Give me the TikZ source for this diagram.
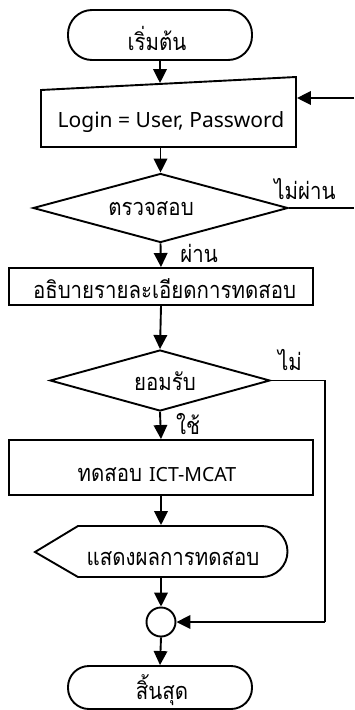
\documentclass[tikz,border=0pt]{standalone}
\usepackage{fontspec}
\setmainfont[Script=Thai,FakeStretch=0.87]{Loma}
\newfontfamily\latinf{Noto Sans}
\usetikzlibrary{arrows.meta,shapes.geometric}
\begin{document}
\begin{tikzpicture}[x=1pt,y=1pt,
  line width=1.9pt,
  txt/.style={font=\fontsize{23.5}{26}\selectfont, inner sep=0pt, anchor=base},
  term/.style={draw, rectangle, rounded corners=24pt, minimum width=184pt, minimum height=50pt},
  procbox/.style={draw, rectangle, minimum width=304pt, minimum height=37pt},
  decision/.style={draw, diamond, inner sep=0pt, aspect=3.7},
  connector/.style={draw, circle, minimum size=29pt, inner sep=0pt},
  arr/.style={-{Triangle[width=13.5pt,length=14pt]}},
  lbl/.style={txt}
]
\useasboundingbox (0,0) rectangle (354,-710);

% start
\node[term] (start) at (160,-35) {};
\node[txt] (starttxt) at (157,-50) {เริ่มต้น};

% manual input
\draw (41,-90) -- (296,-77) -- (296,-147) -- (41,-147) -- cycle;
\node[inner sep=0pt, minimum width=255pt, minimum height=63pt] (login) at (168.5,-115.5) {};
\node[txt] (logintxt) at (171,-127) {\latinf\fontsize{21}{24}\selectfont Login = User, Password};
\coordinate (loopin) at (354,-98);

% decision 1
\node[decision, minimum width=255pt, minimum height=69pt] (chk) at (160.5,-208) {};
\node[txt] (chktxt) at (151,-215) {ตรวจสอบ};
\coordinate (failout) at (354,-208);

% explain box
\node[procbox] (explain) at (161,-286.5) {};
\node[txt] (explaintxt) at (164.5,-298.5) {อธิบายรายละเอียดการทดสอบ};

% decision 2
\node[decision, minimum width=220pt, minimum height=61pt] (acc) at (160,-380.5) {};
\node[txt] (acctxt) at (165,-390) {ยอมรับ};
\coordinate (c1) at (325,-380.5);
\coordinate (c2) at (325,-622);

% test box
\node[procbox, minimum height=55pt] (test) at (161,-467.5) {};
\node[txt] (testtxt) at (157,-481) {ทดสอบ {\latinf\fontsize{19.5}{22}\selectfont ICT-MCAT}};

% display
\draw (35,-552) -- (78,-526) -- (262,-526) arc (90:-90:25.5) -- (78,-577) -- cycle;
\node[inner sep=0pt, minimum width=253pt, minimum height=51pt] (disp) at (161,-551.5) {};
\node[txt] (disptxt) at (173,-565) {แสดงผลการทดสอบ};

% connector circle
\node[connector] (join) at (161,-622) {};

% end
\node[term, minimum height=43pt, rounded corners=21pt] (stop) at (160,-687.5) {};
\node[txt] (stoptxt) at (162,-699) {สิ้นสุด};

% connectors
\draw[arr] (start.south) -- (start.south |- login.north);
\draw[arr] (loopin) -- (loopin -| login.east);
\draw[arr] (login.south -| chk.north) -- (chk.north);
\draw (chk.east) -- (failout);
\draw[arr] (chk.south) -- (explain.north);
\draw[arr] (explain.south) -- (acc.north);
\draw (acc.east) -- (c1) -- (c2);
\draw[arr] (c2) -- (join.east);
\draw[arr] (acc.south) -- (test.north);
\draw[arr] (test.south) -- (disp.north);
\draw[arr] (disp.south) -- (join.north);
\draw[arr] (join.south) -- (stop.north);

% labels
\node[lbl] (l1) at (305,-199) {ไม่ผ่าน};
\node[lbl] (l2) at (199,-262) {ผ่าน};
\node[lbl] (l3) at (290,-370) {ไม่};
\node[lbl] (l4) at (188,-434) {ใช้};
\end{tikzpicture}
\end{document}
